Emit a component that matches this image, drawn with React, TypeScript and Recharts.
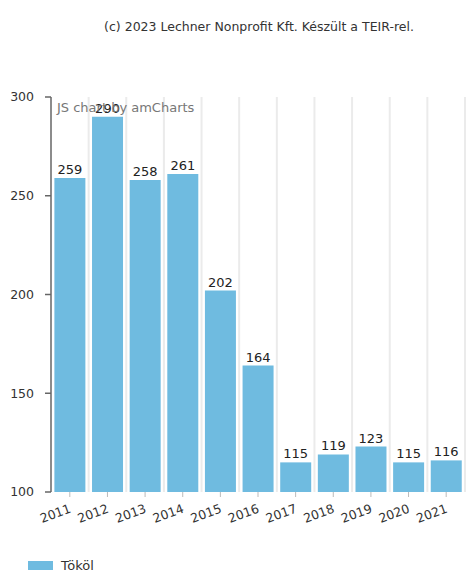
import React from 'react';
import { BarChart, Bar, XAxis, YAxis, CartesianGrid, LabelList } from 'recharts';

const years = ['2011', '2012', '2013', '2014', '2015', '2016', '2017', '2018', '2019', '2020', '2021'];
const values = [259, 290, 258, 261, 202, 164, 115, 119, 123, 115, 116];
const yTicks = [100, 150, 200, 250, 300];
const seriesName = 'Tököl';

const data = years.map((year, i) => ({ year, value: values[i] }));

const font = '"DejaVu Sans", Verdana, sans-serif';
const barColor = '#6fbbe0';

const XTick = (props: any) => {
  const { x, y, payload } = props;
  return (
    <g transform={`translate(${x + 2},${y + 13})`}>
      <text textAnchor="end" transform="rotate(-20)" fontSize={12.5} fill="#333" fontFamily={font}>
        {payload.value}
      </text>
    </g>
  );
};

export default function App() {
  return (
    <div style={{ position: 'absolute', left: 0, top: 0, width: 466, height: 576, background: '#fff' }}>
      <div
        style={{
          position: 'absolute',
          top: 19,
          left: 58,
          width: 402,
          textAlign: 'center',
          fontFamily: font,
          fontSize: 12.5,
          color: '#333',
        }}
      >
        (c) 2023 Lechner Nonprofit Kft. Készült a TEIR-rel.
      </div>
      <div
        style={{
          position: 'absolute',
          top: 100,
          left: 57,
          fontFamily: font,
          fontSize: 13,
          color: '#777',
          zIndex: 2,
        }}
      >
        JS chart by amCharts
      </div>
      <BarChart
        width={466}
        height={576}
        data={data}
        margin={{ top: 97, right: 1, left: 0, bottom: 0 }}
        barCategoryGap="9%"
      >
        <CartesianGrid
          horizontal={false}
          stroke="#ebebeb"
          strokeWidth={2}
          verticalCoordinatesGenerator={({ offset }: any) =>
            years.map((_, i) => offset.left + ((i + 1) * offset.width) / years.length)
          }
        />
        <XAxis
          dataKey="year"
          axisLine={false}
          tickLine={{ stroke: '#bbb' }}
          tickSize={5}
          interval={0}
          tick={<XTick />}
          height={84}
        />
        <YAxis
          domain={[100, 300]}
          ticks={yTicks}
          width={51}
          allowDataOverflow
          axisLine={{ stroke: '#666', strokeWidth: 1.5 }}
          tickLine={{ stroke: '#666', strokeWidth: 1.5 }}
          tickSize={6}
          tickMargin={11}
          tick={{ fontSize: 12.5, fill: '#333', fontFamily: font }}
        />
        <Bar dataKey="value" name={seriesName} fill={barColor} isAnimationActive={false}>
          <LabelList dataKey="value" position="top" offset={4} fontSize={13} fill="#222" fontFamily={font} />
        </Bar>
      </BarChart>
      <div
        style={{
          position: 'absolute',
          left: 28,
          top: 558,
          display: 'flex',
          alignItems: 'center',
          fontFamily: font,
          fontSize: 13,
          color: '#333',
        }}
      >
        <span style={{ display: 'inline-block', width: 25, height: 9, background: barColor, marginRight: 8 }} />
        <span>{seriesName}</span>
      </div>
    </div>
  );
}
